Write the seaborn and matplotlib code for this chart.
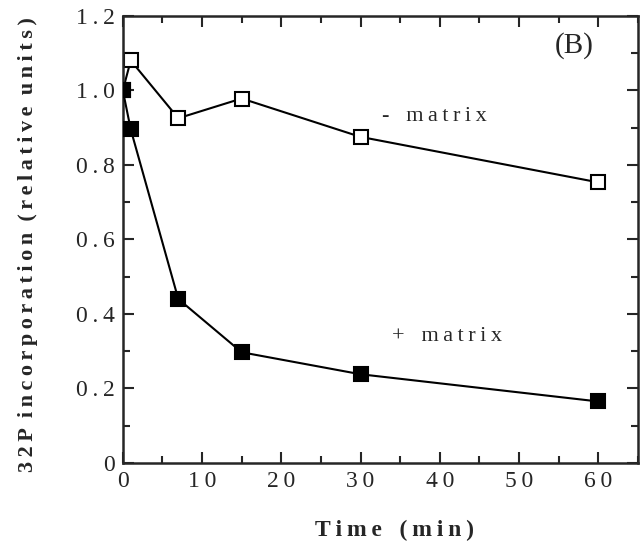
import numpy as np
import pandas as pd
import seaborn as sns
import matplotlib.pyplot as plt
from matplotlib.ticker import MultipleLocator, FuncFormatter

# data
time = [0, 1, 7, 15, 30, 60]
minus_matrix = [1.00, 1.08, 0.925, 0.978, 0.875, 0.753]
plus_matrix = [1.00, 0.895, 0.44, 0.297, 0.238, 0.165]

sns.set_style("ticks")
plt.rcParams['font.family'] = ['Liberation Serif', 'DejaVu Serif']

def spaced(s, sep="\u2009"):
    return sep.join(s)

df_minus = pd.DataFrame({"time": time, "value": minus_matrix})
df_plus = pd.DataFrame({"time": time, "value": plus_matrix})

fig = plt.figure(figsize=(6.43, 5.44), dpi=100)
ax = fig.add_axes([0.191, 0.149, 0.801, 0.822])

sns.lineplot(data=df_minus, x="time", y="value", ax=ax, color="black", lw=1.5,
             marker="s", markersize=9.5, markerfacecolor="white",
             markeredgecolor="black", markeredgewidth=1.5, zorder=2)
sns.lineplot(data=df_plus, x="time", y="value", ax=ax, color="black", lw=1.5,
             marker="s", markersize=9.5, markerfacecolor="black",
             markeredgecolor="black", markeredgewidth=1.5, zorder=3)

ax.set_xlim(0, 65)
ax.set_ylim(0, 1.2)
ax.xaxis.set_major_locator(MultipleLocator(10))
ax.xaxis.set_minor_locator(MultipleLocator(5))
ax.yaxis.set_major_locator(MultipleLocator(0.2))
ax.yaxis.set_minor_locator(MultipleLocator(0.1))
ax.xaxis.set_major_formatter(FuncFormatter(lambda v, p: spaced(f"{v:.0f}")))
ax.yaxis.set_major_formatter(FuncFormatter(lambda v, p: "0" if abs(v) < 1e-9 else spaced(f"{v:.1f}")))
ax.tick_params(which="both", direction="in", top=True, right=True, width=1.5)
ax.tick_params(which="major", length=8, labelsize=17, pad=6)
ax.tick_params(which="minor", length=5)
for s in ax.spines.values():
    s.set_linewidth(1.8)

ax.set_xlabel(spaced("Time") + "   " + spaced("(min)"), fontsize=17, fontweight="bold")
ax.set_ylabel(spaced("32P") + "  " + spaced("incorporation") + "  "
              + spaced("(relative") + "  " + spaced("units)"),
              fontsize=16, fontweight="bold")
ax.xaxis.set_label_coords(0.528, -0.15)
ax.yaxis.set_label_coords(-0.184, 0.489)
ax.xaxis.label.set_va("center")
ax.yaxis.label.set_va("center")

ax.text(57, 1.12, "(B)", fontsize=21, ha="center", va="center")
ax.text(32.7, 0.93, spaced("-") + "   " + spaced("matrix"), fontsize=16, va="center")
ax.text(34, 0.34, spaced("+") + "   " + spaced("matrix"), fontsize=16, va="center")

fig.savefig("out.png", dpi=100)
